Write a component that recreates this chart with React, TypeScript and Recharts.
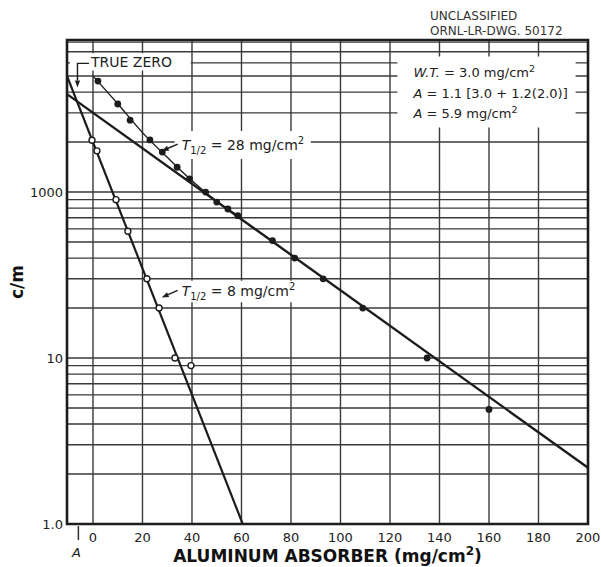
import React from 'react';
import { ComposedChart, Line, Scatter, XAxis, YAxis, CartesianGrid, ReferenceArea } from 'recharts';

const FONT = '"DejaVu Sans", Verdana, sans-serif';
const INK = '#1c1c1c';
const GRID = '#3a3a3a';

// absorber (mg/cm2) vs counting rate (c/m)
const filledX = [2, 10, 15, 23, 28, 34, 39, 45.5, 50, 54.5, 58.5, 72.5, 81.5, 93, 109, 135, 160];
const filledY = [466, 339, 271, 206, 174, 141, 120, 100, 87, 79, 72, 51, 40, 30, 20, 10, 4.9];
const openX = [-0.4, 1.6, 9.3, 14.1, 21.8, 26.7, 33.1, 39.6];
const openY = [205, 177, 90, 58, 30, 20, 10, 9];
// hand-drawn curve through the filled points
const curveX = [0, 10, 20, 30, 40, 50, 60];
const curveY = [500, 340, 228, 162, 117, 88, 70];
// straight fits
const fit28X = [-10.5, 200];
const fit28Y = [389, 2.18];
const fit8X = [-10.5, 60.5];
const fit8Y = [500, 1];

const A_VALUE = -5.9;
const xTicks = [A_VALUE, 0, 20, 40, 60, 80, 100, 120, 140, 160, 180, 200];
const yTicks = [1, 10, 100];
const yTickLabels = ['1.0', '10', '1000'];
const gridX = [0, 20, 40, 60, 80, 100, 120, 140, 160, 180];
const gridY = [2, 3, 4, 5, 6, 7, 8, 9, 10, 20, 30, 40, 50, 60, 70, 80, 90, 100, 200, 300, 400, 500, 600, 700, 800];

const X_DOMAIN: [number, number] = [-10.5, 200];
const Y_DOMAIN: [number, number] = [1, 824];

const toPts = (xs: number[], ys: number[]) => xs.map((x, i) => ({ x, y: ys[i] }));
const filled = toPts(filledX, filledY);
const open = toPts(openX, openY);
const curve = toPts(curveX, curveY);
const fit28 = toPts(fit28X, fit28Y);
const fit8 = toPts(fit8X, fit8Y);

const Arrow = ({ x1, y1, x2, y2 }: { x1: number; y1: number; x2: number; y2: number }) => {
  const a = Math.atan2(y2 - y1, x2 - x1);
  const L = 7;
  const W = 2.6;
  const bx = x2 - L * Math.cos(a);
  const by = y2 - L * Math.sin(a);
  const pts = `${x2},${y2} ${bx - W * Math.sin(a)},${by + W * Math.cos(a)} ${bx + W * Math.sin(a)},${by - W * Math.cos(a)}`;
  return (
    <g>
      <line x1={x1} y1={y1} x2={bx} y2={by} stroke={INK} strokeWidth={1.4} />
      <polygon points={pts} fill={INK} />
    </g>
  );
};

const txt = { fontFamily: FONT, fill: '#222', style: { whiteSpace: 'pre' as const } };

const TrueZeroLabel = ({ viewBox }: any) => {
  if (!viewBox) return null;
  const { x, y, height } = viewBox;
  const mid = y + height / 2 + 1.5;
  const ax = x + 7.5;
  return (
    <g>
      <polyline points={`${x + 19},${mid} ${ax},${mid} ${ax},${y + height + 9}`} fill="none" stroke={INK} strokeWidth={1.4} />
      <Arrow x1={ax} y1={y + height + 8} x2={ax} y2={y + height + 17} />
      <text x={x + 21} y={y + height / 2 + 5} fontSize={14} {...txt}>TRUE ZERO</text>
    </g>
  );
};

const HalfLabel = ({ viewBox, value }: any) => {
  if (!viewBox) return null;
  const { x, y, height } = viewBox;
  const base = y + height / 2 + 5;
  return (
    <g>
      <Arrow x1={x + 3} y1={base - 6} x2={x - 13} y2={base + 1} />
      <text x={x + 7} y={base} fontSize={14} {...txt}>
        <tspan fontStyle="italic">T</tspan>
        <tspan fontSize={10} dy={4}>1/2</tspan>
        <tspan dy={-4}>{` = ${value} mg/cm`}</tspan>
        <tspan fontSize={10} dy={-6}>2</tspan>
      </text>
    </g>
  );
};

const NoteLabel = ({ viewBox }: any) => {
  if (!viewBox) return null;
  const { x, y } = viewBox;
  const lx = x + 16;
  return (
    <g>
      <text x={lx} y={y + 20} fontSize={13} {...txt}>
        <tspan fontStyle="italic">W.T.</tspan>
        <tspan>{' = 3.0 mg/cm'}</tspan>
        <tspan fontSize={9.5} dy={-5}>2</tspan>
      </text>
      <text x={lx} y={y + 41.5} fontSize={13} {...txt}>
        <tspan fontStyle="italic">A</tspan>
        <tspan>{' = 1.1 [3.0 + 1.2(2.0)]'}</tspan>
      </text>
      <text x={lx} y={y + 61.5} fontSize={13} {...txt}>
        <tspan fontStyle="italic">A</tspan>
        <tspan>{' = 5.9 mg/cm'}</tspan>
        <tspan fontSize={9.5} dy={-5}>2</tspan>
      </text>
    </g>
  );
};

const FrameLabel = () => (
  <g>
    <text x={430} y={20} fontSize={12} {...txt} fill="#333">UNCLASSIFIED</text>
    <text x={430} y={35} fontSize={12} {...txt} fill="#333">ORNL-LR-DWG. 50172</text>
  </g>
);

const XTick = ({ x, y, payload }: any) => {
  if (payload.value === A_VALUE) {
    return (
      <g>
        <line x1={x} x2={x} y1={y + 2} y2={y + 16} stroke="#333" strokeWidth={1.5} />
        <text x={x - 2} y={y + 33} textAnchor="middle" fontSize={13} fontStyle="italic" {...txt}>A</text>
      </g>
    );
  }
  return (
    <text x={x} y={y + 17.5} textAnchor="middle" fontSize={13} {...txt}>
      {payload.value}
    </text>
  );
};

const YTick = ({ x, y, payload }: any) => (
  <text x={x - 4} y={y + 4.7} textAnchor="end" fontSize={13} {...txt}>
    {yTickLabels[yTicks.indexOf(payload.value)]}
  </text>
);

const XTitle = ({ viewBox }: any) => {
  if (!viewBox) return null;
  return (
    <text x={viewBox.x + viewBox.width / 2} y={562} textAnchor="middle" fontSize={17} fontWeight="bold" {...txt} fill="#111">
      <tspan>ALUMINUM ABSORBER (mg/cm</tspan>
      <tspan fontSize={12} dy={-7}>2</tspan>
      <tspan dy={7}>)</tspan>
    </text>
  );
};

const YTitle = ({ viewBox }: any) => {
  if (!viewBox) return null;
  const cy = viewBox.y + viewBox.height / 2;
  return (
    <text x={23} y={cy} transform={`rotate(-90 23 ${cy})`} textAnchor="middle" fontSize={17} fontWeight="bold" {...txt} fill="#111">
      c/m
    </text>
  );
};

const FilledDot = (p: any) => <circle cx={p.cx} cy={p.cy} r={3.4} fill={INK} />;
const OpenDot = (p: any) => <circle cx={p.cx} cy={p.cy} r={3} fill="#fff" stroke={INK} strokeWidth={1.4} />;

export default function App() {
  return (
    <div style={{ position: 'absolute', left: 0, top: 0, width: 601, height: 567, background: '#fff' }}>
      <ComposedChart width={601} height={567} margin={{ top: 40, right: 13, bottom: 13, left: 7 }}>
        <CartesianGrid horizontalValues={gridY} verticalValues={gridX} stroke={GRID} strokeWidth={1.4} />
        <XAxis
          type="number"
          dataKey="x"
          domain={X_DOMAIN}
          ticks={xTicks}
          interval={0}
          allowDataOverflow
          axisLine={false}
          tickLine={false}
          tickSize={0}
          tickMargin={0}
          height={30}
          tick={<XTick />}
          label={<XTitle />}
        />
        <YAxis
          type="number"
          dataKey="y"
          scale="log"
          domain={Y_DOMAIN}
          ticks={yTicks}
          interval={0}
          allowDataOverflow
          axisLine={false}
          tickLine={false}
          tickSize={0}
          tickMargin={0}
          width={60}
          tick={<YTick />}
          label={<YTitle />}
        />
        <ReferenceArea x1={-9.3} x2={39.5} y1={540} y2={685} fill="#fff" fillOpacity={1} stroke="none" label={<TrueZeroLabel />} />
        <ReferenceArea x1={33} x2={88} y1={158} y2={233} fill="#fff" fillOpacity={1} stroke="none" label={<HalfLabel value={28} />} />
        <ReferenceArea x1={33} x2={84} y1={21.7} y2={29.2} fill="#fff" fillOpacity={1} stroke="none" label={<HalfLabel value={8} />} />
        <ReferenceArea x1={123} x2={195} y1={245} y2={655} fill="#fff" fillOpacity={1} stroke="none" label={<NoteLabel />} />
        <Line data={fit28} dataKey="y" type="linear" stroke={INK} strokeWidth={2.4} dot={false} activeDot={false} isAnimationActive={false} />
        <Line data={fit8} dataKey="y" type="linear" stroke={INK} strokeWidth={2.2} dot={false} activeDot={false} isAnimationActive={false} />
        <Line data={curve} dataKey="y" type="monotone" stroke={INK} strokeWidth={1.4} dot={false} activeDot={false} isAnimationActive={false} />
        <Scatter data={filled} dataKey="y" shape={FilledDot} isAnimationActive={false} />
        <Scatter data={open} dataKey="y" shape={OpenDot} isAnimationActive={false} />
        <ReferenceArea x1={X_DOMAIN[0]} x2={X_DOMAIN[1]} y1={Y_DOMAIN[0]} y2={Y_DOMAIN[1]} fill="none" stroke={INK} strokeWidth={2.6} label={<FrameLabel />} />
      </ComposedChart>
    </div>
  );
}
